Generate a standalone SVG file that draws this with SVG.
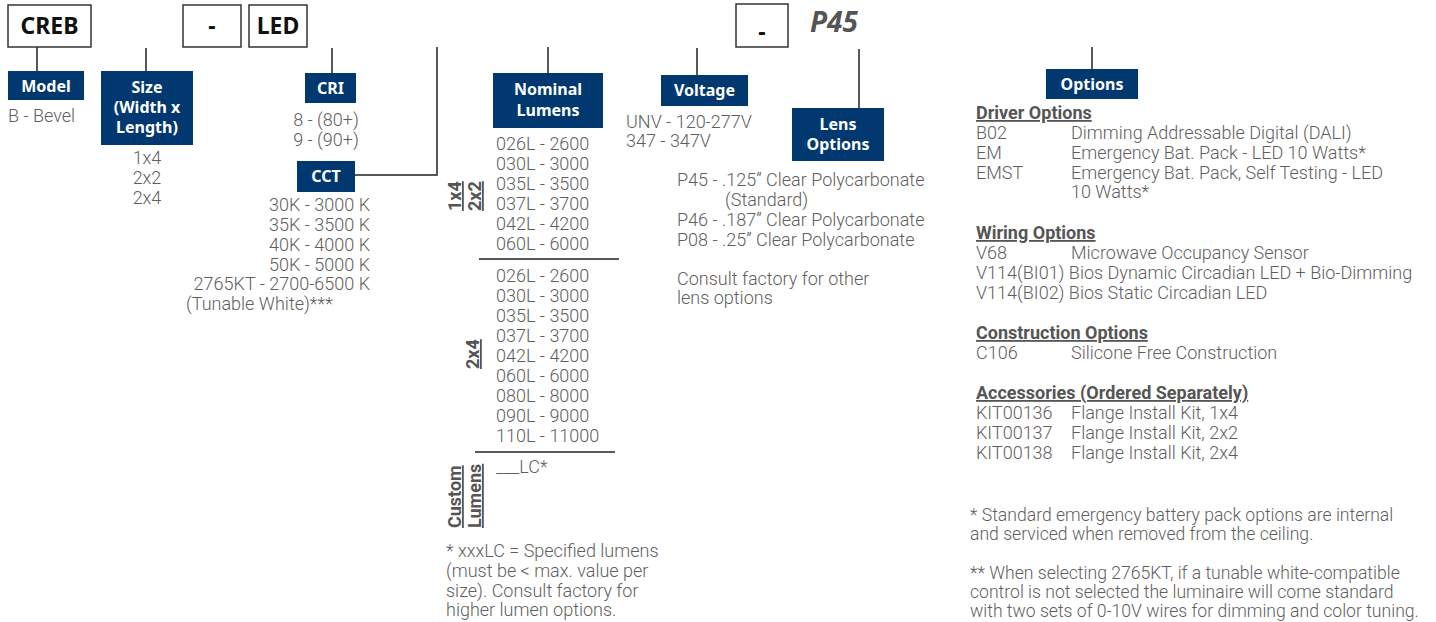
<svg xmlns="http://www.w3.org/2000/svg" width="1436" height="622" viewBox="0 0 1436 622">
<style>
.t{font-family:Roboto,"Noto Sans",sans-serif;font-size:18px;font-weight:300;fill:#5e5e5e}
.f{font-size:17.6px}
.h{font-family:Roboto,"Noto Sans",sans-serif;font-size:18px;font-weight:bold;fill:#555;text-decoration:underline}
.lb{font-family:"Noto Sans",sans-serif;font-size:16px;font-weight:bold;fill:#fff;text-anchor:middle}
.bx{fill:#fff;stroke:#333;stroke-width:1.5}
.nv{fill:#00386f}
.code{font-family:"Noto Sans",sans-serif;font-size:23px;font-weight:bold;fill:#111;text-anchor:middle}
.ln{stroke:#222;stroke-width:1.5;fill:none}
.m{text-anchor:middle}
.e{text-anchor:end}
</style>
<rect width="1436" height="622" fill="#fff"/>
<g id="connectors">
<line class="ln" x1="37" y1="47" x2="37" y2="71"/>
<line class="ln" x1="146" y1="48" x2="146" y2="71"/>
<line class="ln" x1="332" y1="48" x2="332" y2="73"/>
<polyline class="ln" points="355,175 437,175 437,47"/>
<line class="ln" x1="548" y1="47" x2="548" y2="73"/>
<line class="ln" x1="697" y1="48" x2="697" y2="75"/>
<line class="ln" x1="859" y1="49" x2="859" y2="115"/>
<line class="ln" x1="1092" y1="47" x2="1092" y2="69"/>
<line class="ln" x1="479" y1="259" x2="619" y2="259"/>
<line class="ln" x1="475" y1="452" x2="615" y2="452"/>
</g>
<g id="code-creb"><rect class="bx" x="8" y="5" width="83" height="42"/><text class="code" x="49.5" y="34">CREB</text></g>
<g id="code-dash1"><rect class="bx" x="183" y="5" width="58" height="42"/><text class="code" x="212" y="34">-</text></g>
<g id="code-led"><rect class="bx" x="249" y="5" width="58" height="42"/><text class="code" x="278" y="34">LED</text></g>
<g id="code-dash2"><rect class="bx" x="736" y="4" width="52" height="43"/><text class="code" x="762" y="40">-</text></g>
<g id="code-p45"><text x="810" y="32" style="font-family:'Noto Sans',sans-serif;font-size:28px;font-weight:bold;font-style:italic;fill:#555">P45</text></g>

<g id="model"><rect class="nv" x="8" y="71" width="76" height="29"/><text class="lb" x="46" y="92">Model</text>
<text class="t" x="8" y="122">B - Bevel</text></g>

<g id="size"><rect class="nv" x="101" y="71" width="92" height="74"/>
<text class="lb" x="147" y="93">Size</text><text class="lb" x="147" y="113">(Width x</text><text class="lb" x="147" y="133">Length)</text>
<text class="t m" x="147" y="164">1x4</text><text class="t m" x="147" y="184">2x2</text><text class="t m" x="147" y="204">2x4</text></g>

<g id="cri"><rect class="nv" x="305" y="73" width="51" height="30"/><text class="lb" x="330.5" y="94">CRI</text>
<text class="t m" x="326" y="126">8 - (80+)</text><text class="t m" x="326" y="146">9 - (90+)</text></g>

<g id="cct"><rect class="nv" x="297" y="161" width="58" height="31"/><text class="lb" x="326" y="182">CCT</text>
<text class="t e" x="370" y="211">30K - 3000 K</text>
<text class="t e" x="370" y="231">35K - 3500 K</text>
<text class="t e" x="370" y="251">40K - 4000 K</text>
<text class="t e" x="370" y="271">50K - 5000 K</text>
<text class="t e" x="370" y="290">2765KT - 2700-6500 K</text>
<text class="t" x="186" y="310">(Tunable White)***</text></g>

<g id="lumens"><rect class="nv" x="493" y="73" width="110" height="55"/>
<text class="lb" x="548" y="95">Nominal</text><text class="lb" x="548" y="116">Lumens</text>
<text class="t" x="496" y="150">026L - 2600</text>
<text class="t" x="496" y="170">030L - 3000</text>
<text class="t" x="496" y="190">035L - 3500</text>
<text class="t" x="496" y="210">037L - 3700</text>
<text class="t" x="496" y="230">042L - 4200</text>
<text class="t" x="496" y="250">060L - 6000</text>
<text class="h" transform="translate(461,211) rotate(-90)">1x4</text>
<text class="h" transform="translate(481,211) rotate(-90)">2x2</text>
<text class="t" x="496" y="282">026L - 2600</text>
<text class="t" x="496" y="302">030L - 3000</text>
<text class="t" x="496" y="322">035L - 3500</text>
<text class="t" x="496" y="342">037L - 3700</text>
<text class="t" x="496" y="362">042L - 4200</text>
<text class="t" x="496" y="382">060L - 6000</text>
<text class="t" x="496" y="402">080L - 8000</text>
<text class="t" x="496" y="422">090L - 9000</text>
<text class="t" x="496" y="442">110L - 11000</text>
<text class="h" transform="translate(479,369) rotate(-90)">2x4</text>
<text class="t" x="496" y="473">___LC*</text>
<text class="h" transform="translate(461,528) rotate(-90)">Custom</text>
<text class="h" transform="translate(481,528) rotate(-90)">Lumens</text>
<text class="t" x="446" y="557">* xxxLC = Specified lumens</text>
<text class="t" x="446" y="577">(must be &lt; max. value per</text>
<text class="t" x="446" y="597">size). Consult factory for</text>
<text class="t" x="446" y="616">higher lumen options.</text></g>

<g id="voltage"><rect class="nv" x="661" y="75" width="87" height="31"/><text class="lb" x="704.5" y="96">Voltage</text>
<text class="t" x="626" y="128">UNV - 120-277V</text><text class="t" x="626" y="147">347 - 347V</text></g>

<g id="lens"><rect class="nv" x="792" y="108" width="92" height="53"/>
<text class="lb" x="838" y="130">Lens</text><text class="lb" x="838" y="150">Options</text>
<text class="t" x="677" y="186">P45 - .125” Clear Polycarbonate</text>
<text class="t" x="725" y="206">(Standard)</text>
<text class="t" x="677" y="226">P46 - .187” Clear Polycarbonate</text>
<text class="t" x="677" y="246">P08 - .25” Clear Polycarbonate</text>
<text class="t" x="677" y="285">Consult factory for other</text>
<text class="t" x="677" y="304">lens options</text></g>

<g id="options"><rect class="nv" x="1046" y="69" width="92" height="30"/><text class="lb" x="1092" y="90">Options</text>
<text class="h" x="976" y="119">Driver Options </text>
<text class="t" x="976" y="139">B02</text><text class="t" x="1071" y="139">Dimming Addressable Digital (DALI)</text>
<text class="t" x="976" y="159">EM</text><text class="t" x="1071" y="159">Emergency Bat. Pack - LED 10 Watts*</text>
<text class="t" x="976" y="179">EMST</text><text class="t" x="1071" y="179">Emergency Bat. Pack, Self Testing - LED</text>
<text class="t" x="1071" y="198">10 Watts*</text>
<text class="h" x="976" y="239">Wiring Options</text>
<text class="t" x="976" y="259">V68</text><text class="t" x="1071" y="259">Microwave Occupancy Sensor</text>
<text class="t" x="976" y="279">V114(BI01) Bios Dynamic Circadian LED + Bio-Dimming</text>
<text class="t" x="976" y="299">V114(BI02) Bios Static Circadian LED</text>
<text class="h" x="976" y="339">Construction Options</text>
<text class="t" x="976" y="359">C106</text><text class="t" x="1071" y="359">Silicone Free Construction</text>
<text class="h" x="976" y="399">Accessories (Ordered Separately)</text>
<text class="t" x="976" y="419">KIT00136</text><text class="t" x="1071" y="419">Flange Install Kit, 1x4</text>
<text class="t" x="976" y="439">KIT00137</text><text class="t" x="1071" y="439">Flange Install Kit, 2x2</text>
<text class="t" x="976" y="459">KIT00138</text><text class="t" x="1071" y="459">Flange Install Kit, 2x4</text>
<text class="t f" x="970" y="521">* Standard emergency battery pack options are internal</text>
<text class="t f" x="970" y="540">and serviced when removed from the ceiling.</text>
<text class="t f" x="970" y="579">** When selecting 2765KT, if a tunable white-compatible</text>
<text class="t f" x="970" y="598">control is not selected the luminaire will come standard</text>
<text class="t f" x="970" y="617">with two sets of 0-10V wires for dimming and color tuning.</text></g>
</svg>
